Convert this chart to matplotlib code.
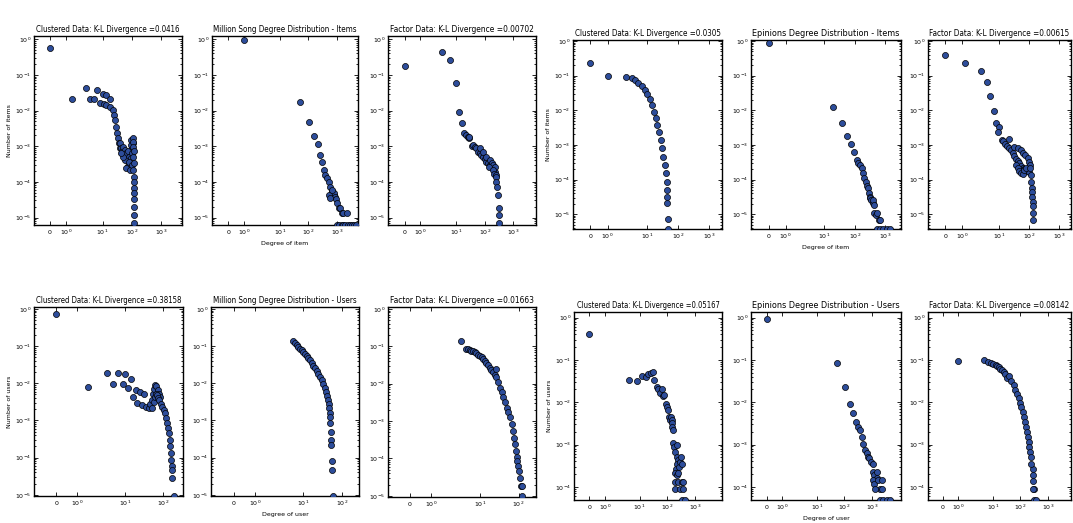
import matplotlib
matplotlib.use("Agg")
import matplotlib.pyplot as plt
from matplotlib import font_manager

# ---- data: Million Song, items (top-left group, row 1) ----
ms_item_clu_x = [0, 1.35, 2.6, 3.8, 5.0, 6.4, 7.9, 10.3, 10.9, 13.5, 13.5, 17.6, 17.6, 21.8, 24.2,
                 26.3, 28.3, 31.6, 34.2, 37, 39, 39, 44, 48, 51, 54, 58, 63, 66, 70, 76, 82, 87, 91,
                 99, 76, 66, 87, 58, 51, 99, 107, 94, 91, 44, 82, 99,
                 113, 115, 110, 116, 113, 118, 115, 117, 116, 117, 117, 118, 118, 119, 119]
ms_item_clu_y = [0.56, 0.021, 0.043, 0.021, 0.021, 0.038, 0.0166, 0.0295, 0.0155, 0.0275, 0.0145,
                 0.021, 0.0129, 0.0105, 0.0076, 0.0055, 0.0035, 0.0023, 0.00166, 0.0012, 0.00087,
                 0.0012, 0.00087, 0.00071, 0.00098, 0.00057, 0.00079, 0.00051, 0.00063, 0.00041,
                 0.00071, 0.00051, 0.00033, 0.00046, 0.00063, 0.00027, 0.00024, 0.00022, 0.00041,
                 0.00051, 0.00098, 0.0012, 0.0015, 0.0011, 0.00063, 0.00037, 0.0003,
                 0.00166, 0.00135, 0.00098, 0.00071, 0.00051, 0.00033, 0.00022, 0.000141, 0.000102,
                 6.6e-5, 4.8e-5, 3.2e-5, 2.0e-5, 1.2e-5, 6.9e-6]

ms_item_true_x = [1, 50, 103, 155, 212, 263, 302, 343, 389, 446, 510, 583, 666, 722, 760, 820, 860,
                  920, 510, 583, 666, 1000, 1150, 1310, 1490, 1700, 2200,
                  1000, 1200, 1450, 1700, 2000, 2400, 2800, 3300, 3900, 4600]
ms_item_true_y = [0.95, 0.0178, 0.0049, 0.00195, 0.00117, 0.00057, 0.00037, 0.00022, 0.000158,
                  0.000126, 0.000102, 7.4e-5, 5.4e-5, 3.9e-5, 4.4e-5, 5.0e-5, 3.7e-5, 3.2e-5,
                  4.4e-5, 3.5e-5, 6.0e-5, 2.5e-5, 1.8e-5, 1.8e-5, 1.3e-5, 1.3e-5, 1.3e-5,
                  6.2e-6, 6.2e-6, 6.2e-6, 6.2e-6, 6.2e-6, 6.2e-6, 6.2e-6, 6.2e-6, 6.2e-6, 6.2e-6]

ms_item_fac_x = [0, 3.18, 6.2, 9.6, 12.6, 15.7, 18.9, 22, 25, 28, 29, 37, 40, 45, 51, 59, 67, 77, 88,
                 101, 115, 132, 151, 173, 198, 226, 67, 88, 115, 151, 173, 198, 226, 143, 188, 212,
                 243, 243, 259, 277, 296, 310, 318, 318]
ms_item_fac_y = [0.178, 0.45, 0.263, 0.058, 0.0093, 0.0044, 0.0024, 0.00205, 0.00185, 0.00166,
                 0.00185, 0.001, 0.00107, 0.00097, 0.00087, 0.0007, 0.00063, 0.00056, 0.0005,
                 0.00043, 0.00036, 0.00033, 0.0003, 0.00026, 0.00024, 0.00019, 0.00087, 0.0007,
                 0.0005, 0.00041, 0.00033, 0.0003, 0.00026, 0.00026, 0.00021, 0.00017, 0.000155,
                 0.000138, 0.0001, 7.2e-5, 4.3e-5, 1.8e-5, 1.17e-5, 6.8e-6]

# ---- data: Million Song, users (row 2) ----
ms_user_clu_x = [0, 1.51, 3.3, 4.96, 6.7, 8.75, 10.1, 12.3, 14.3, 16.2, 19.8, 21.4, 25.2, 28, 32, 36,
                 42, 46.5, 51.5, 55, 59.5, 63, 67, 73, 79, 86,
                 51.5, 57, 61, 64.5, 70, 76, 82, 90, 97, 105, 114, 121, 129, 137, 146, 152, 158,
                 165, 168, 171, 174, 178, 194]
ms_user_clu_y = [0.73, 0.0079, 0.019, 0.0098, 0.019, 0.0094, 0.0174, 0.0076, 0.0133, 0.0043, 0.0065,
                 0.0029, 0.0059, 0.0026, 0.0053, 0.0023, 0.0021, 0.00285, 0.0035, 0.0053, 0.0072,
                 0.0088, 0.0083, 0.0065, 0.0053, 0.0043,
                 0.0021, 0.0032, 0.0043, 0.0053, 0.0048, 0.0041, 0.0035, 0.00285, 0.0023, 0.0019,
                 0.00155, 0.00113, 0.00083, 0.00061, 0.00045, 0.0003, 0.0002, 0.000131, 8.7e-5,
                 5.8e-5, 4.7e-5, 2.8e-5, 9.3e-6]

ms_user_true_x = [5.5, 6.0, 6.7, 7.4, 8.2, 9.0, 10, 11, 12.2, 13.5, 14.9, 16.5, 18.2, 20, 22.1, 24.5,
                  27, 30, 33, 36, 38.7, 41, 43.5, 45.5, 47.1, 48, 49, 50, 52, 52, 53, 54, 54, 57]
ms_user_true_y = [0.133, 0.12, 0.105, 0.095, 0.085, 0.077, 0.069, 0.061, 0.054, 0.048, 0.042, 0.036,
                  0.030, 0.025, 0.0214, 0.018, 0.0148, 0.012, 0.0093, 0.0075, 0.0059, 0.0046,
                  0.0035, 0.0027, 0.0021, 0.0016, 0.00126, 0.00087, 0.0005, 0.0003, 0.00022,
                  7.9e-5, 4.7e-5, 9.3e-6]

ms_user_fac_x = [3.36, 4.5, 5.0, 5.5, 6.1, 6.7, 7.4, 8.2, 9.1, 10, 11.1, 12.2, 13.5, 14.9, 16.5, 18.2,
                 20, 22, 24.5, 27, 27, 29.8, 33, 36.4, 40.2, 44.4, 49, 54, 60, 66, 70, 76, 80.5,
                 85, 89, 94, 98, 102, 108, 113, 120, 120]
ms_user_fac_y = [0.141, 0.085, 0.082, 0.079, 0.077, 0.074, 0.07, 0.065, 0.06, 0.056, 0.051, 0.046,
                 0.04, 0.035, 0.031, 0.027, 0.023, 0.020, 0.017, 0.0245, 0.0148, 0.011, 0.0079,
                 0.0059, 0.0043, 0.0032, 0.0023, 0.0017, 0.00126, 0.00083, 0.00055, 0.00036,
                 0.00024, 0.000162, 0.000107, 8.7e-5, 6.3e-5, 4.7e-5, 3.1e-5, 1.86e-5, 1.86e-5,
                 1.0e-5]

# ---- data: Epinions, items (right group, row 1) ----
ep_item_clu_x = [0, 1, 2.14, 3.25, 4.17, 5.35, 6.84, 8.77, 10.4, 12.7, 15.1, 17.1, 19.9, 21.9, 24.2,
                 28, 30.9, 34.2, 37.8, 40.7, 43.9, 45, 46, 46, 49.6, 49.6]
ep_item_clu_y = [0.237, 0.098, 0.094, 0.084, 0.075, 0.063, 0.050, 0.039, 0.0295, 0.021, 0.0143,
                 0.0091, 0.0059, 0.0038, 0.0024, 0.0014, 0.00079, 0.00046, 0.00026, 0.000151,
                 8.7e-5, 5.0e-5, 3.2e-5, 2.1e-5, 7.2e-6, 3.7e-6]

ep_item_true_x = [0, 19, 37.6, 57.5, 75.5, 94, 115, 130, 147, 166, 180, 199, 228, 251, 269, 288, 302,
                  323, 338, 379, 406, 425, 425, 480, 538, 603, 677, 514, 660, 850, 1090, 1390]
ep_item_true_y = [0.89, 0.0128, 0.0042, 0.0018, 0.00107, 0.00062, 0.00037, 0.0003, 0.00026,
                  0.000213, 0.000152, 0.00011, 8.7e-5, 6.3e-5, 5.6e-5, 4.1e-5, 3.2e-5, 2.9e-5,
                  2.6e-5, 2.1e-5, 2.6e-5, 1.86e-5, 1.07e-5, 9.5e-6, 1.07e-5, 6.9e-6, 6.9e-6,
                  3.7e-6, 3.7e-6, 3.7e-6, 3.7e-6, 3.7e-6]

ep_item_fac_x = [0, 1.16, 2.33, 3.8, 4.9, 6.5, 7.8, 10, 9.1, 12.3, 13.6, 15.9, 17.6, 20.5, 21.6,
                 24.6, 27.9, 31.7, 36, 41, 46.6, 52.9, 60, 68, 77.6, 88, 100,
                 31.7, 41, 52.9, 63, 73.6, 88, 100, 108,
                 36, 41, 46.6, 52.9, 60, 68, 77.6,
                 108, 114, 117, 120, 123, 123, 129.5, 129.5, 136, 136]
ep_item_fac_y = [0.40, 0.227, 0.139, 0.067, 0.026, 0.0095, 0.0042, 0.0032, 0.0023, 0.0014, 0.00126,
                 0.00107, 0.00093, 0.00079, 0.00145,
                 0.00072, 0.00058, 0.00047, 0.0004, 0.00035, 0.0003, 0.00025, 0.00022, 0.0002,
                 0.00018, 0.0002, 0.00016,
                 0.00089, 0.00079, 0.00072, 0.0006, 0.00051, 0.00042, 0.00033, 0.00026,
                 0.00026, 0.00021, 0.00018, 0.000151, 0.000141, 0.00019, 0.00021,
                 0.00021, 0.000135, 8.7e-5, 5.6e-5, 4.5e-5, 3.2e-5, 2.3e-5, 1.66e-5, 1.07e-5,
                 6.9e-6]

# ---- data: Epinions, users (row 2) ----
ep_user_clu_x = [0, 4.1, 8.3, 12.6, 16.6, 20.8, 25.3, 30.7, 33.4, 40.6, 46.7, 53.6, 61.6, 67, 75,
                 88.6, 93.4, 101.7, 117, 124, 130.6, 142, 142, 150, 155,
                 155, 178, 188, 216, 230, 248, 230, 202, 188, 216, 248, 265, 285, 305, 328,
                 188, 248, 328, 377, 188, 285, 377, 328, 433]
ep_user_clu_y = [0.40, 0.033, 0.0316, 0.042, 0.040, 0.046, 0.048, 0.051, 0.034, 0.023, 0.021,
                 0.0166, 0.021, 0.0138, 0.0146, 0.0093, 0.0078, 0.0067, 0.0045, 0.0037, 0.0045,
                 0.0037, 0.0032, 0.0026, 0.0022,
                 0.0011, 0.00088, 0.00067, 0.00096, 0.00051, 0.00043, 0.00035, 0.00027, 0.00021,
                 0.00019, 0.00021, 0.0003, 0.00039, 0.00051, 0.00035,
                 0.000132, 0.000132, 0.000132, 0.000132, 8.7e-5, 8.7e-5, 8.7e-5, 4.9e-5, 4.9e-5]

ep_user_true_x = [0, 53.6, 107, 163, 216, 270, 328, 377, 433, 498, 572, 657, 705, 817, 940, 1080,
                  1140, 1250, 1320, 1520, 1520, 1080, 1200, 1750, 2010, 2300, 1320, 2300,
                  2010, 2650, 3500, 4600]
ep_user_true_y = [0.9, 0.082, 0.023, 0.0093, 0.0056, 0.0034, 0.0026, 0.0022, 0.0015, 0.00105,
                  0.00074, 0.00062, 0.00051, 0.00047, 0.00039, 0.00035,
                  0.000224, 0.00019, 0.000145, 0.000224, 0.000158, 0.000145, 0.000115, 0.000145,
                  8.7e-5, 8.7e-5, 8.7e-5, 0.000145,
                  4.9e-5, 4.9e-5, 4.9e-5, 4.9e-5]

ep_user_fac_x = [1, 5.0, 7, 8.77, 10.5, 12.6, 14.5, 16.6, 19, 22, 25, 29, 32.5, 40.6, 46.7, 56.8, 67,
                 75, 88.6, 99, 110, 124, 138, 155, 163, 178, 193, 204, 216, 228, 248, 285, 248,
                 285, 300, 328, 285, 328, 377]
ep_user_fac_y = [0.095, 0.1, 0.09, 0.085, 0.08, 0.075, 0.07, 0.066, 0.061, 0.057, 0.052, 0.0475,
                 0.038, 0.041, 0.032, 0.025, 0.019, 0.016, 0.0123, 0.0096, 0.0078, 0.0059, 0.0045,
                 0.0034, 0.0026, 0.002, 0.0015, 0.00115, 0.00087, 0.00068, 0.00051, 0.00027,
                 0.00035, 0.00019, 0.000138, 8.7e-5, 8.7e-5, 4.9e-5, 4.9e-5]

W, H = 1073, 523


def narrow_font():
    # look for any installed condensed / narrow sans face for the squeezed titles
    best = None
    for f in font_manager.fontManager.ttflist:
        name = (f.name + " " + f.fname).lower()
        if f.style != "normal" or f.weight not in (400, "normal", "regular"):
            continue
        if "narrow" in name or "condensed" in name or str(f.stretch) in ("condensed", "semi-condensed",
                                                                         "extra-condensed"):
            if "mono" in name or "serif" in name and "sans" not in name:
                continue
            best = f.fname
            if "liberation" in name or "dejavu" in name:
                break
    if best:
        return font_manager.FontProperties(fname=best)
    return font_manager.FontProperties(family="DejaVu Sans")


title_prop = narrow_font()
titles = []


def add_panel(fig, box, x, y, title, xlim, ylim, xticks):
    left, top, right, bottom = box
    ax = fig.add_axes([left / W, 1 - bottom / H, (right - left) / W, (bottom - top) / H])
    ax.set_xscale("symlog", linthresh=2, linscale=1)
    ax.set_yscale("log")
    ax.scatter(x, y, s=19, c="#2d4d9b", edgecolors="black", linewidths=0.5, zorder=3)
    ax.set_xlim(*xlim)
    ax.set_ylim(*ylim)
    ax.set_xticks(xticks)
    ax.xaxis.set_minor_locator(matplotlib.ticker.NullLocator())
    ax.tick_params(which="both", direction="in", top=True, right=True, labelsize=4.5, width=0.6)
    ax.tick_params(which="major", length=3, pad=2)
    ax.tick_params(which="minor", length=1.5)
    for s in ax.spines.values():
        s.set_linewidth(1.0)
    t = ax.set_title(title, fontproperties=title_prop, fontsize=10, pad=3)
    titles.append((t, right - left))
    return ax


fig = plt.figure(figsize=(W / 100, H / 100), dpi=100)

full_ticks = [0, 1, 10, 100, 1000]
short_ticks = [0, 1, 10, 100]

a = add_panel(fig, (34, 36, 182, 225), ms_item_clu_x, ms_item_clu_y,
              "Clustered Data: K-L Divergence =0.0416", (-1.0, 5400), (10 ** -5.21, 10 ** 0.09), full_ticks)
a.set_ylabel("Number of items", fontsize=4.5, labelpad=2)
a = add_panel(fig, (212, 36, 358, 225), ms_item_true_x, ms_item_true_y,
              "Million Song Degree Distribution - Items", (-1.04, 5500), (10 ** -5.21, 10 ** 0.09), full_ticks)
a.set_xlabel("Degree of item", fontsize=4.5, labelpad=3)
add_panel(fig, (388, 36, 536, 225), ms_item_fac_x, ms_item_fac_y,
          "Factor Data: K-L Divergence =0.00702", (-1.05, 6300), (10 ** -5.21, 10 ** 0.09), full_ticks)

a = add_panel(fig, (34, 307, 183, 496), ms_user_clu_x, ms_user_clu_y,
              "Clustered Data: K-L Divergence =0.38158", (-1.07, 343), (10 ** -5.03, 10 ** 0.05), short_ticks)
a.set_ylabel("Number of users", fontsize=4.5, labelpad=2)
a = add_panel(fig, (211, 307, 359, 496), ms_user_true_x, ms_user_true_y,
              "Million Song Degree Distribution - Users", (-1.05, 276), (10 ** -5.03, 10 ** 0.05), short_ticks)
a.set_xlabel("Degree of user", fontsize=4.5, labelpad=3)
add_panel(fig, (388, 307, 536, 497), ms_user_fac_x, ms_user_fac_y,
          "Factor Data: K-L Divergence =0.01663", (-1.0, 282), (10 ** -5.03, 10 ** 0.05), short_ticks)

a = add_panel(fig, (573, 40, 722, 229), ep_item_clu_x, ep_item_clu_y,
              "Clustered Data: K-L Divergence =0.0305", (-1.0, 2600), (10 ** -5.43, 10 ** 0.03), full_ticks)
a.set_ylabel("Number of items", fontsize=4.5, labelpad=2)
a = add_panel(fig, (751, 40, 901, 229), ep_item_true_x, ep_item_true_y,
              "Epinions Degree Distribution - Items", (-1.03, 3200), (10 ** -5.43, 10 ** 0.03), full_ticks)
a.set_xlabel("Degree of item", fontsize=4.5, labelpad=3)
add_panel(fig, (928, 40, 1071, 229), ep_item_fac_x, ep_item_fac_y,
          "Factor Data: K-L Divergence =0.00615", (-1.04, 2470), (10 ** -5.43, 10 ** 0.03), full_ticks)

a = add_panel(fig, (574, 312, 722, 500), ep_user_clu_x, ep_user_clu_y,
              "Clustered Data: K-L Divergence =0.05167", (-1.0, 9300), (10 ** -4.31, 10 ** 0.13), full_ticks)
a.set_ylabel("Number of users", fontsize=4.5, labelpad=2)
a = add_panel(fig, (751, 312, 901, 500), ep_user_true_x, ep_user_true_y,
              "Epinions Degree Distribution - Users", (-1.04, 11500), (10 ** -4.31, 10 ** 0.13), full_ticks)
a.set_xlabel("Degree of user", fontsize=4.5, labelpad=3)
add_panel(fig, (928, 312, 1071, 500), ep_user_fac_x, ep_user_fac_y,
          "Factor Data: K-L Divergence =0.08142", (-0.98, 7000), (10 ** -4.31, 10 ** 0.13), full_ticks)

# shrink each title so it spans roughly the width of its panel, as in the source figure
renderer = fig.canvas.get_renderer()
for t, width in titles:
    w = t.get_window_extent(renderer).width
    target = width * 0.98
    if w > target:
        t.set_fontsize(t.get_fontsize() * target / w)

fig.savefig("out.png", dpi=100)
